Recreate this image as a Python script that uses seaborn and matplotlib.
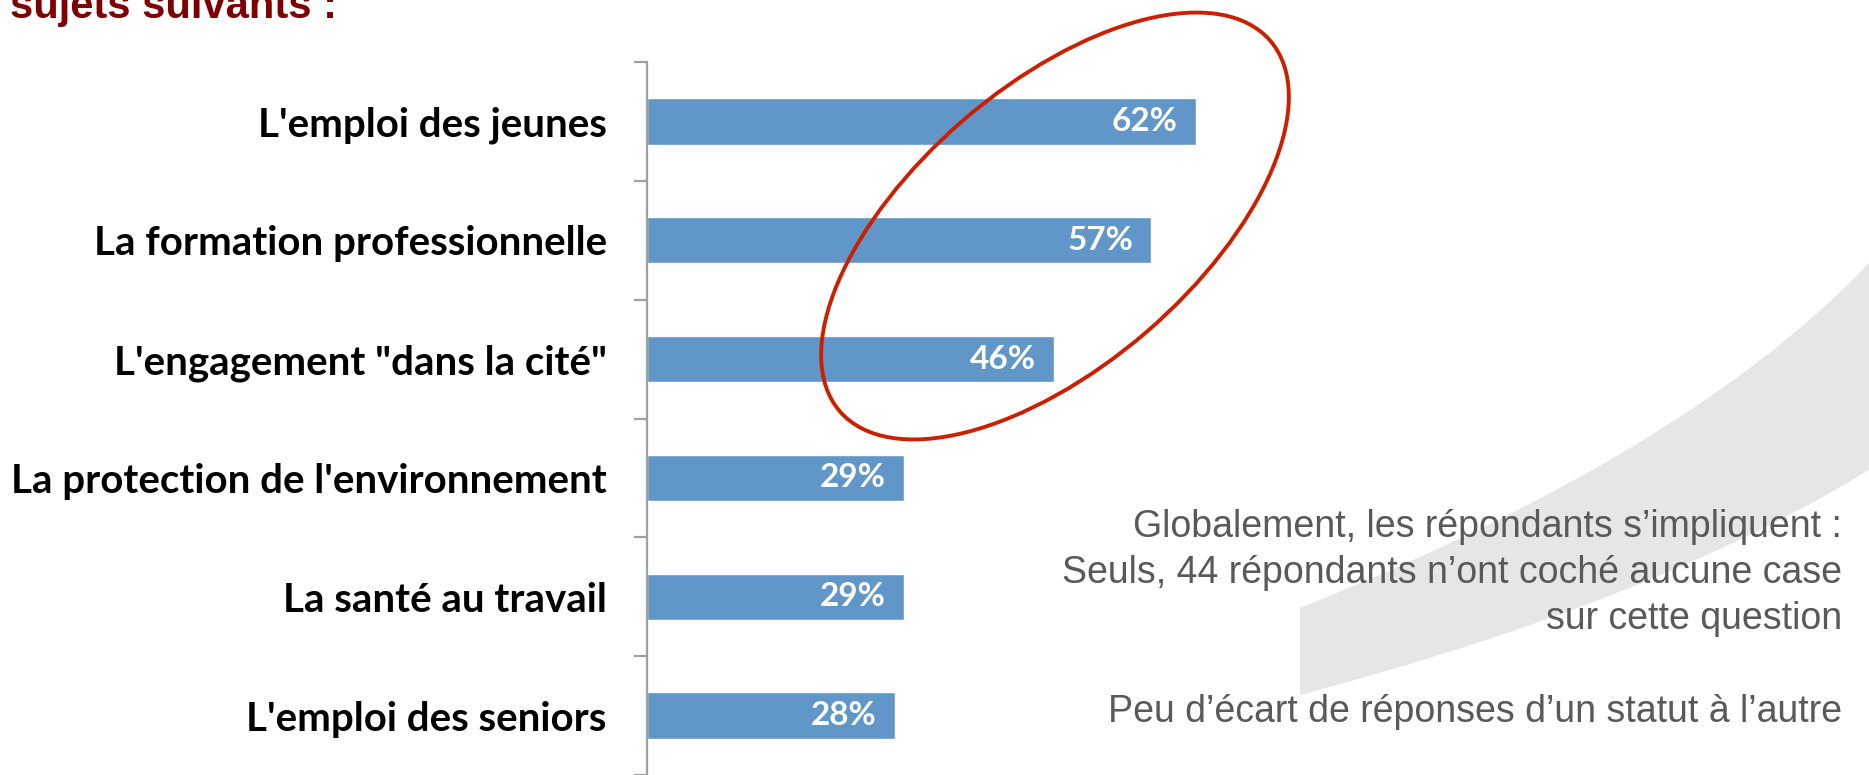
import matplotlib
matplotlib.use("Agg")
import matplotlib.pyplot as plt
import pandas as pd
import seaborn as sns
from matplotlib.patches import Ellipse, PathPatch
from matplotlib.path import Path

categories = [
    "L'emploi des jeunes",
    "La formation professionnelle",
    "L'engagement \"dans la cité\"",
    "La protection de l'environnement",
    "La santé au travail",
    "L'emploi des seniors",
]
values = [62, 57, 46, 29, 29, 28]
value_labels = ["62%", "57%", "46%", "29%", "29%", "28%"]

title_text = "sujets suivants :"
note_lines = [
    "Globalement, les répondants s\u2019impliquent :",
    "Seuls, 44 répondants n\u2019ont coché aucune case",
    "sur cette question",
    "Peu d\u2019écart de réponses d\u2019un statut à l\u2019autre",
]

W, H = 1869, 775
BAR_COLOR = "#6196c8"

sns.set_style("white")
plt.rcParams["font.family"] = ["Lato", "DejaVu Sans"]

df = pd.DataFrame({"sujet": categories, "pct": values})

fig = plt.figure(figsize=(W / 100, H / 100), dpi=100)
ax = fig.add_axes([647 / W, 0.0, 885 / W, 1 - 62 / H])
ax.patch.set_alpha(0)

sns.barplot(data=df, x="pct", y="sujet", color=BAR_COLOR, saturation=1,
            width=0.39, ax=ax, orient="h")

ax.set_xlim(0, 100)
ax.set_ylim(5.48, -0.5)
ax.set_xlabel("")
ax.set_ylabel("")
ax.set_xticks([])
for side in ["top", "right", "bottom"]:
    ax.spines[side].set_visible(False)
ax.spines["left"].set_color("#a0a0a0")
ax.spines["left"].set_linewidth(1.6)

ax.set_yticks([i - 0.5 for i in range(len(categories) + 1)], minor=True)
ax.tick_params(axis="y", which="minor", left=True, length=9.5, width=1.6,
               color="#a0a0a0", direction="out")
ax.tick_params(axis="y", which="major", left=True, length=0, pad=29)
for lab in ax.get_yticklabels():
    lab.set_fontsize(29)
    lab.set_fontweight("bold")
    lab.set_color("black")

for i, (v, lab) in enumerate(zip(values, value_labels)):
    ax.annotate(lab, xy=(v, i), xytext=(-13, 0), textcoords="offset points",
                ha="right", va="center", color="white", fontsize=24, fontweight="bold")

# title remnant at the top (cut off in the original slide)
fig.text(10 / W, 1 - 18 / H, title_text, ha="left", va="baseline", fontsize=30,
         fontweight="bold", color="#7f0000", family=["Liberation Sans", "DejaVu Sans"])

# grey swoosh decoration
px = lambda x, y: (x / 100, (H - y) / 100)
verts = [px(1300, 608), px(1690, 452), px(1869, 263), px(1869, 470),
         px(1655, 601), px(1300, 695), px(1300, 608)]
codes = [Path.MOVETO, Path.CURVE3, Path.CURVE3, Path.LINETO,
         Path.CURVE3, Path.CURVE3, Path.CLOSEPOLY]
swoosh = PathPatch(Path(verts, codes), facecolor="#e6e6e6", edgecolor="none",
                   transform=fig.dpi_scale_trans, zorder=-1)
fig.add_artist(swoosh)

# red ellipse around the top three answers
ring = Ellipse(px(1055, 226), width=5.68, height=2.80, angle=40.7, fill=False,
               edgecolor="#cc1f00", linewidth=2.8, transform=fig.dpi_scale_trans, zorder=5)
fig.add_artist(ring)

note_y = [527, 573, 619, 712]
for line, y in zip(note_lines, note_y):
    fig.text(1842 / W, 1 - y / H, line, ha="right", va="center", fontsize=27,
             color="#595959", family=["Liberation Sans", "DejaVu Sans"])

fig.savefig("out.png", dpi=100)
